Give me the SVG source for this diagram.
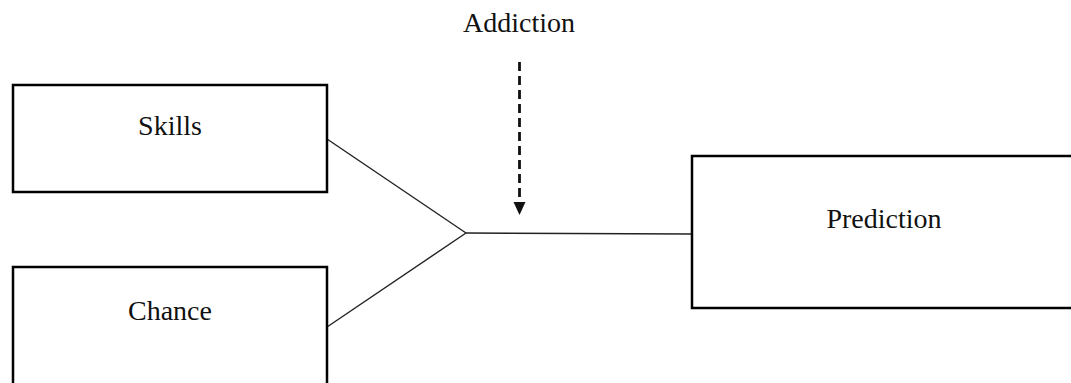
<svg xmlns="http://www.w3.org/2000/svg" width="1071" height="383" viewBox="0 0 1071 383">
<style>
.box{fill:#fff;stroke:#000;stroke-width:2.5}
.lbl{font-family:"Liberation Serif","Times New Roman",serif;font-size:28px;fill:#111;text-anchor:middle}
.conn{stroke:#222;stroke-width:1.4;fill:none}
.dash{stroke:#111;stroke-width:2.8;stroke-dasharray:9,5;fill:none}
</style>
<rect width="1071" height="383" fill="#fff"/>
<g id="connectors">
<line class="conn" x1="327" y1="139" x2="466" y2="233"/>
<line class="conn" x1="327" y1="327" x2="466" y2="233"/>
<line class="conn" x1="466" y1="233" x2="692" y2="234"/>
<line class="dash" x1="519.5" y1="62" x2="519.5" y2="202"/>
<path d="M513.5,202 L525.5,202 L519.5,215 Z" fill="#111"/>
</g>
<g id="skills">
<rect class="box" x="13" y="85" width="314" height="107"/>
<text class="lbl" x="170" y="135">Skills</text>
</g>
<g id="chance">
<rect class="box" x="13" y="267" width="314" height="130"/>
<text class="lbl" x="170" y="320">Chance</text>
</g>
<g id="prediction">
<rect class="box" x="692" y="156" width="400" height="152"/>
<text class="lbl" x="884" y="228">Prediction</text>
</g>
<g id="addiction">
<text class="lbl" x="519" y="32">Addiction</text>
</g>
</svg>
